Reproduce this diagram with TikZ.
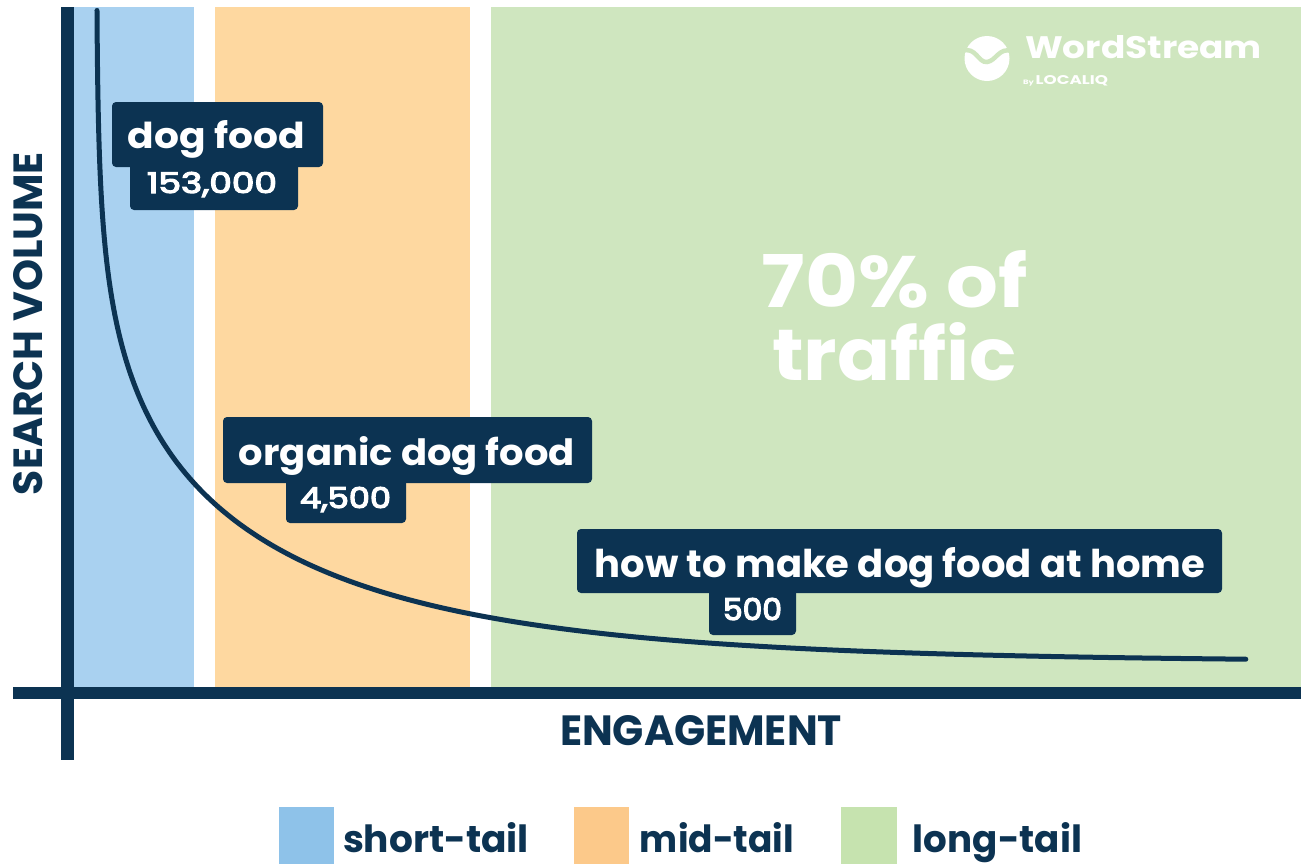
\documentclass[tikz,border=0pt]{standalone}
\usepackage{graphicx}
\usepackage{fontspec}
\setmainfont{Poppins}
\newfontfamily\numfont[FakeBold=4]{Poppins}
\definecolor{navy}{HTML}{0C3352}
\definecolor{bandblue}{HTML}{A9D1F0}
\definecolor{bandorange}{HTML}{FED8A0}
\definecolor{bandgreen}{HTML}{CFE6BF}
\definecolor{legblue}{HTML}{8EC2E9}
\definecolor{legorange}{HTML}{FCC98A}
\definecolor{leggreen}{HTML}{C6E3AF}
\newcommand\fitt[3]{\resizebox{#1pt}{#2pt}{#3}}
\begin{document}
\begin{tikzpicture}[x=1pt,y=-1pt,
  txt/.style={anchor=base,inner sep=0pt,outer sep=0pt},
  wtxt/.style={txt,text=white},
  ntxt/.style={txt,text=navy},
  labelbox/.style={fill=navy,rounded corners=4pt}]
\useasboundingbox (0,0) rectangle (1301,863);
\fill[white] (0,0) rectangle (1301,863);
% bands
\fill[bandblue] (74,7) rectangle (194,687);
\fill[bandorange] (215,7) rectangle (470,687);
\fill[bandgreen] (491,7) rectangle (1301,687);
% axes
\fill[navy] (61,7) rectangle (74,760);
\fill[navy] (13,687) rectangle (1301,699);
% curve
\draw[navy,line width=5pt,line cap=round] plot[domain=-0.7:7.05,samples=300,smooth]
 ({96.5+exp(\x)},{662-79.6*ln(1+1800/exp(\x))*exp(-exp(\x)/350)});
% logo
\fill[white] (987,58.5) circle (22.5);
\draw[bandgreen,line width=4.5pt] (962,51) .. controls (976,46) and (978,63) .. (987,62) .. controls (996,61) and (999,47) .. (1012,51);
\node[wtxt] (ws) at (1143.5,58) {\fitt{237}{23}{\bfseries WordStream}};
\node[wtxt] (byl) at (1065.5,84) {\fitt{85}{9}{\bfseries\tiny By \normalsize LOCALIQ}};
% big text
\node[wtxt] (seventy) at (895,307) {\fitt{266}{57}{\bfseries 70\% of}};
\node[wtxt] (traffic) at (894.5,380) {\fitt{245}{58}{\bfseries traffic}};
% label boxes
\fill[labelbox] (130,160) rectangle (298,210);
\fill[labelbox] (112,102) rectangle (323,167);
\node[wtxt] (dogfood) at (216.5,148) {\fitt{177}{28}{\bfseries dog food}};
\node[wtxt] (v153) at (212,193) {\fitt{130}{21}{\numfont 153,000}};
\fill[labelbox] (286,475) rectangle (406,523);
\fill[labelbox] (223,417) rectangle (592,483);
\node[wtxt] (organic) at (407,465) {\fitt{336}{29}{\bfseries organic dog food}};
\node[wtxt] (v4500) at (345.5,508) {\fitt{91}{21}{\numfont 4,500}};
\fill[labelbox] (709,585) rectangle (796,635);
\fill[labelbox] (577,529) rectangle (1222,593);
\node[wtxt] (howto) at (900,577) {\fitt{610}{30}{\bfseries how to make dog food at home}};
\node[wtxt] (v500) at (752.5,620) {\fitt{59}{22}{\numfont 500}};
% axis labels
\node[ntxt] (engage) at (701,745) {\fitt{282}{30}{\bfseries ENGAGEMENT}};
\node[ntxt,rotate=90] (search) at (42,323.5) {\fitt{343}{29}{\bfseries SEARCH VOLUME}};
% legend
\fill[legblue] (279,807) rectangle (334,864);
\fill[legorange] (574,807) rectangle (629,864);
\fill[leggreen] (841,807) rectangle (897,864);
\node[ntxt] (short) at (436,852) {\fitt{186}{30}{\bfseries short-tail}};
\node[ntxt] (mid) at (717,852) {\fitt{154}{30}{\bfseries mid-tail}};
\node[ntxt] (long) at (997.5,852) {\fitt{169}{30}{\bfseries long-tail}};
\end{tikzpicture}
\end{document}
